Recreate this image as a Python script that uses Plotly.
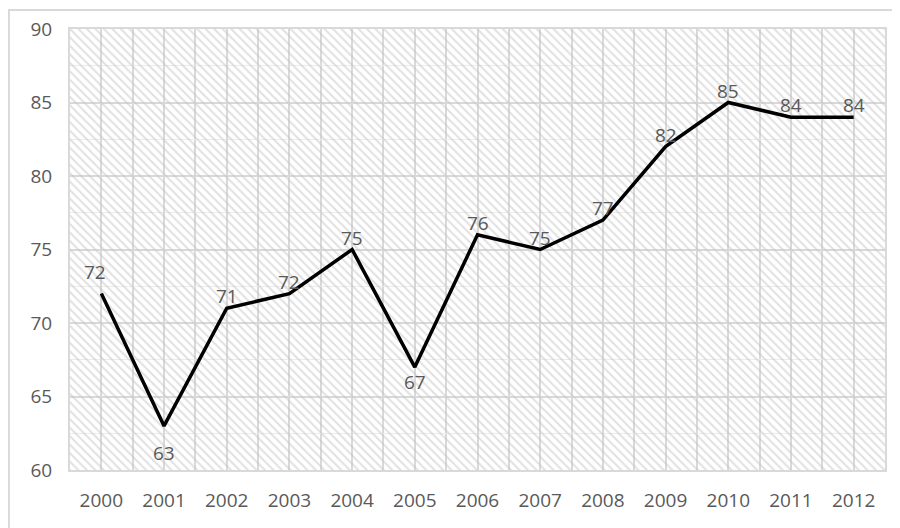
import plotly.graph_objects as go

years = [2000, 2001, 2002, 2003, 2004, 2005, 2006, 2007, 2008, 2009, 2010, 2011, 2012]
values = [72, 63, 71, 72, 75, 67, 76, 75, 77, 82, 85, 84, 84]
y_ticks = [60, 65, 70, 75, 80, 85, 90]

# label placement (pixels) - styling only
label_dy = [22, -27, 12, 12, 12, -15, 12, 12, 12, 12, 12, 12, 12]
label_dx = [-6, 0, 0, 0, 0, 0, 0, 0, 0, 0, 0, 0, 0]

x_min, x_max = years[0] - 0.5, years[-1] + 0.5
y_min, y_max = y_ticks[0], y_ticks[-1]

font_family = "Open Sans"
txt_color = "#595959"
grid_color = "#d9d9d9"
fsize = 19

fig = go.Figure()

# hatched plot-area background
fig.add_trace(go.Scatter(
    x=[x_min, x_max, x_max, x_min, x_min],
    y=[y_min, y_min, y_max, y_max, y_min],
    mode="lines", fill="toself",
    line=dict(width=0, color="rgba(0,0,0,0)"),
    fillcolor="rgba(0,0,0,0)",
    fillpattern=dict(shape="\\", fgcolor="#c4c4c4", bgcolor="rgba(0,0,0,0)",
                     size=6, solidity=0.35),
    hoverinfo="skip", showlegend=False,
))

fig.add_trace(go.Scatter(
    x=years, y=values, mode="lines",
    line=dict(color="#000000", width=3.5),
    showlegend=False,
))

annotations = [
    dict(x=x, y=v, text=str(v), showarrow=False, xshift=dx, yshift=dy,
         font=dict(family=font_family, size=fsize, color=txt_color))
    for x, v, dx, dy in zip(years, values, label_dx, label_dy)
]

fig.update_layout(
    width=892, height=520,
    margin=dict(l=62, r=15, t=21, b=58, autoexpand=False),
    paper_bgcolor="white", plot_bgcolor="white",
    font=dict(family=font_family, size=fsize, color=txt_color),
    annotations=annotations,
    xaxis=dict(
        range=[x_min, x_max], tickvals=years, ticktext=[str(y) for y in years],
        showgrid=True, gridcolor=grid_color, gridwidth=2,
        minor=dict(tickvals=[y - 0.5 for y in years] + [x_max], showgrid=True,
                   gridcolor=grid_color, gridwidth=2),
        showline=True, linecolor=grid_color, linewidth=2, mirror=True,
        zeroline=False, ticks="", ticklabelstandoff=12, automargin=False,
        tickfont=dict(family=font_family, size=fsize, color=txt_color),
    ),
    yaxis=dict(
        range=[y_min, y_max], tickvals=y_ticks,
        showgrid=True, gridcolor=grid_color, gridwidth=2,
        minor=dict(dtick=2.5, showgrid=True, gridcolor="#ececec", gridwidth=1),
        showline=True, linecolor=grid_color, linewidth=2, mirror=True,
        zeroline=False, ticks="", ticklabelstandoff=12, automargin=False,
        tickfont=dict(family=font_family, size=fsize, color=txt_color),
    ),
    shapes=[dict(type="rect", xref="paper", yref="paper",
                 x0=-0.075, x1=1.05, y0=-0.2, y1=1.043,
                 line=dict(color="#d9d9d9", width=2), fillcolor="rgba(0,0,0,0)",
                 layer="below")],
)

fig.write_html("out.html")
